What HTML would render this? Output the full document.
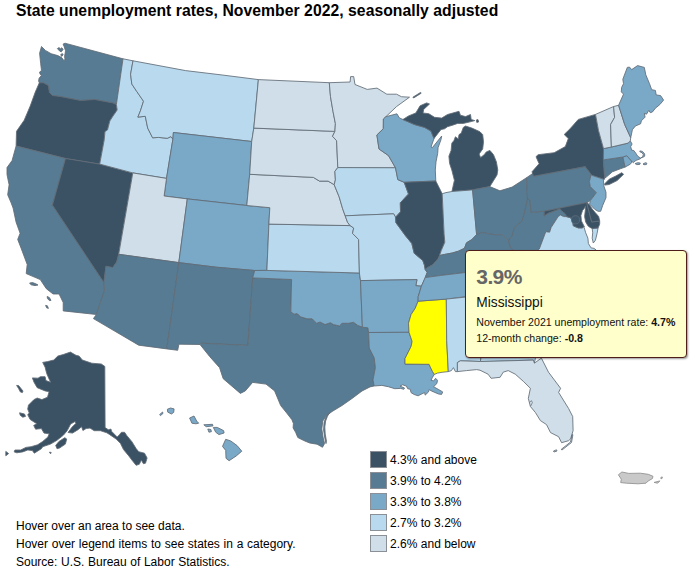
<!DOCTYPE html>
<html>
<head>
<meta charset="utf-8">
<title>State unemployment rates, November 2022, seasonally adjusted</title>
<style>
html,body{margin:0;padding:0;background:#fff;}
body{width:695px;height:573px;position:relative;overflow:hidden;font-family:"Liberation Sans",sans-serif;color:#000;}
#title{position:absolute;left:16px;top:2.6px;font-size:15.72px;font-weight:bold;line-height:1;white-space:nowrap;letter-spacing:0.045px;color:#000;}
#map{position:absolute;left:0;top:0;width:695px;height:573px;}
#map path{stroke:#616c76;stroke-width:0.85;stroke-linejoin:round;}
.leg{position:absolute;left:370px;width:200px;height:16px;font-size:12px;line-height:16px;white-space:nowrap;}
.leg i{position:absolute;left:0;top:-0.2px;width:14.7px;height:14.7px;border:1px solid #8a9096;display:block;}
.leg span{position:absolute;left:20.1px;top:1px;}
.foot{position:absolute;left:16px;font-size:12px;line-height:16px;white-space:nowrap;}
#tip{position:absolute;left:465px;top:250px;width:220px;height:105.5px;border:1px solid #4f1e1a;border-radius:4px;background:#ffffcc;box-shadow:1px 1px 2px rgba(0,0,0,0.4);}
#tip div{position:absolute;left:10.3px;white-space:nowrap;line-height:1;}
#t1{top:15.3px;font-size:21px;font-weight:bold;color:#666;letter-spacing:-0.6px;}
#t2{top:45.2px;font-size:13.75px;color:#111;}
#t3{top:65.7px;font-size:10.6px;color:#111;}
#t4{top:81.6px;font-size:10.6px;color:#111;}
</style>
</head>
<body>
<svg id="map" viewBox="0 0 695 573" width="695" height="573">
<path d="M39.3 82.8 L38.6 81.1 L39.1 78.2 L41.5 75.3 L40.1 74.3 L39.6 72.0 L41.5 70.5 L40.7 63.8 L39.6 53.2 L41.5 46.5 L45.4 50.4 L51.1 53.7 L57.8 55.6 L61.7 57.6 L64.1 60.8 L65.0 59.0 L64.5 56.6 L65.2 53.0 L65.5 50.8 L64.1 46.5 L63.1 44.1 L65.0 43.2 L123.0 58.8 L116.4 104.5 L112.8 102.9 L94.7 99.5 L80.6 100.5 L70.5 98.5 L60.4 96.5 L52.4 95.5 L49.4 92.5 L48.3 85.4 L43.3 82.8 L39.3 82.8ZM57.4 48.6 L59.0 47.6 L60.4 48.8 L61.8 47.8 L63.1 49.4 L61.4 51.8 L59.8 51.2ZM60.7 54.6 L62.4 53.6 L63.2 55.0 L61.6 56.4Z" fill="#567b92"/>
<path d="M16.1 146.0 L16.5 131.3 L24.2 120.2 L30.2 106.1 L35.3 92.0 L39.3 82.8 L43.3 82.8 L48.3 85.4 L49.4 92.5 L52.4 95.5 L60.4 96.5 L70.5 98.5 L80.6 100.5 L94.7 99.5 L112.8 102.9 L116.4 104.5 L117.2 110.0 L113.0 116.0 L109.8 121.0 L107.5 130.0 L105.0 131.5 L104.2 140.0 L99.7 164.1 L65.5 158.5Z" fill="#3b5265"/>
<path d="M16.1 146.0 L12.1 160.5 L7.0 167.6 L7.0 174.6 L9.1 184.7 L7.7 194.8 L11.1 202.8 L13.1 208.1 L16.1 222.2 L20.1 233.3 L17.7 239.4 L21.2 248.4 L27.2 264.5 L26.2 273.6 L40.3 279.6 L46.3 288.7 L53.1 294.0 L59.1 294.0 L63.2 302.5 L63.2 310.9 L96.4 314.5 L100.4 302.5 L104.5 290.4 L103.9 282.5 L52.4 205.1 L65.5 158.5ZM29.6 283.0 L32.6 282.6 L35.8 283.8 L38.0 285.0 L35.0 285.6 L31.0 284.8ZM47.2 296.4 L49.4 297.6 L51.0 300.4 L49.4 300.6 L47.4 298.4ZM45.6 305.4 L47.4 305.8 L48.4 308.4 L46.6 307.8Z" fill="#567b92"/>
<path d="M65.5 158.5 L99.7 164.1 L132.8 172.9 L118.7 254.3 L116.7 262.0 L112.8 267.6 L110.5 267.2 L106.0 266.3 L103.9 282.5 L52.4 205.1 L65.5 158.5Z" fill="#3b5265"/>
<path d="M123.0 58.8 L133.0 60.8 L130.6 74.2 L131.8 84.0 L136.7 91.4 L143.5 101.2 L140.4 110.9 L137.9 117.1 L145.3 116.3 L147.7 128.1 L152.6 137.8 L158.7 137.4 L167.3 138.3 L170.9 136.6 L172.9 139.1 L166.5 178.4 L132.8 172.9 L99.7 164.1 L104.2 140.0 L105.0 131.5 L107.5 130.0 L109.8 121.0 L113.0 116.0 L117.2 110.0 L116.4 104.5Z" fill="#b9daee"/>
<path d="M133.0 60.8 L185.6 70.6 L222.3 75.0 L258.4 79.6 L253.8 128.1 L251.7 141.5 L173.4 132.5 L172.9 139.1 L170.9 136.6 L167.3 138.3 L158.7 137.4 L152.6 137.8 L147.7 128.1 L145.3 116.3 L137.9 117.1 L140.4 110.9 L143.5 101.2 L136.7 91.4 L131.8 84.0 L130.6 74.2 L133.0 60.8Z" fill="#b9daee"/>
<path d="M173.4 132.5 L251.7 141.5 L249.7 174.3 L246.8 205.5 L187.3 198.9 L164.1 196.0 L166.5 178.4 L172.9 139.1Z" fill="#7aa8c7"/>
<path d="M132.8 172.9 L166.5 178.4 L164.1 196.0 L187.3 198.9 L178.8 262.6 L118.7 254.3Z" fill="#cfdee8"/>
<path d="M187.3 198.9 L246.8 205.5 L269.8 207.7 L268.9 224.1 L266.9 270.4 L254.7 270.5 L216.0 267.2 L178.8 262.6Z" fill="#7aa8c7"/>
<path d="M118.7 254.3 L178.8 262.6 L166.8 348.9 L138.7 345.2 L93.4 318.6 L96.4 314.5 L100.4 302.5 L104.5 290.4 L103.9 282.5 L106.0 266.3 L110.5 267.2 L112.8 267.6 L116.7 262.0 L118.7 254.3Z" fill="#567b92"/>
<path d="M178.8 262.6 L216.0 267.2 L254.7 270.5 L252.7 277.9 L247.9 345.4 L201.0 343.2 L200.0 344.5 L178.9 344.2 L177.7 350.3 L166.8 348.9Z" fill="#567b92"/>
<path d="M252.7 277.9 L291.6 279.5 L290.8 311.8 L294.1 314.2 L297.3 313.6 L300.5 316.8 L307.0 318.8 L312.2 318.8 L316.7 323.3 L320.0 322.0 L325.1 324.6 L330.3 322.7 L333.6 324.6 L339.4 325.9 L342.0 323.3 L348.5 323.3 L353.6 322.3 L357.5 325.3 L362.4 327.2 L367.9 327.8 L368.6 332.5 L369.3 348.1 L374.2 357.8 L375.4 367.6 L373.0 379.9 L374.2 386.0 L370.0 386.9 L362.0 391.0 L352.0 398.5 L342.0 405.5 L332.1 411.5 L326.0 416.0 L322.8 421.0 L321.8 429.0 L323.2 438.0 L324.6 443.5 L322.5 447.3 L317.1 444.2 L309.7 443.0 L303.7 440.5 L297.8 437.5 L295.6 432.3 L293.1 427.9 L293.4 423.4 L291.9 419.7 L286.7 413.0 L280.7 405.6 L274.6 390.9 L266.0 384.1 L252.6 382.4 L245.3 390.9 L240.4 393.4 L223.2 378.7 L219.6 367.7 L209.8 356.7 L200.0 344.5 L201.0 343.2 L247.9 345.4ZM329.5 412.6 L325.6 417.6 L324.0 423.0 L323.6 430.0 L324.8 438.0 L326.0 443.6 L326.4 441.0 L325.2 434.0 L324.8 427.0 L325.6 421.0 L327.4 416.4Z" fill="#567b92"/>
<path d="M254.7 270.5 L266.9 270.4 L359.4 273.0 L360.5 280.6 L362.4 327.2 L357.5 325.3 L353.6 322.3 L348.5 323.3 L342.0 323.3 L339.4 325.9 L333.6 324.6 L330.3 322.7 L325.1 324.6 L320.0 322.0 L316.7 323.3 L312.2 318.8 L307.0 318.8 L300.5 316.8 L297.3 313.6 L294.1 314.2 L290.8 311.8 L291.6 279.5 L252.7 277.9Z" fill="#7aa8c7"/>
<path d="M268.9 224.1 L350.1 225.6 L353.7 228.0 L352.5 233.4 L358.6 239.5 L359.4 273.0 L266.9 270.4Z" fill="#b9daee"/>
<path d="M249.7 174.3 L313.4 177.4 L319.5 181.1 L328.1 181.1 L334.2 184.7 L339.1 196.7 L342.7 208.9 L345.2 215.8 L347.6 222.4 L350.1 225.6 L268.9 224.1 L269.8 207.7 L246.8 205.5Z" fill="#cfdee8"/>
<path d="M253.8 128.1 L334.9 131.4 L332.5 136.3 L336.6 140.7 L337.8 167.6 L334.9 171.3 L335.4 179.9 L334.2 184.7 L328.1 181.1 L319.5 181.1 L313.4 177.4 L249.7 174.3 L251.7 141.5Z" fill="#cfdee8"/>
<path d="M258.4 79.6 L329.3 82.7 L330.5 96.7 L333.0 111.4 L335.4 123.6 L334.9 131.4 L253.8 128.1Z" fill="#cfdee8"/>
<path d="M329.3 82.7 L350.1 82.0 L350.6 76.6 L353.7 76.6 L355.0 84.5 L367.2 89.4 L377.0 88.1 L386.8 94.2 L396.6 94.2 L401.4 96.7 L409.5 97.2 L396.6 106.5 L385.9 116.7 L383.4 119.0 L383.3 128.7 L376.9 135.0 L379.0 149.0 L388.5 155.6 L395.5 167.8 L337.8 167.6 L336.6 140.7 L332.5 136.3 L334.9 131.4 L335.4 123.6 L333.0 111.4 L330.5 96.7 L329.3 82.7Z" fill="#cfdee8"/>
<path d="M337.8 167.6 L395.5 167.8 L397.8 179.6 L404.2 182.3 L408.5 194.0 L400.3 202.8 L400.5 211.8 L395.6 217.2 L393.6 213.8 L345.2 215.8 L342.7 208.9 L339.1 196.7 L334.2 184.7 L335.4 179.9 L334.9 171.3Z" fill="#b9daee"/>
<path d="M345.2 215.8 L393.6 213.8 L395.6 217.2 L395.9 222.6 L405.7 236.0 L411.8 243.4 L414.2 253.2 L422.8 260.5 L424.4 265.0 L425.2 269.5 L427.2 272.5 L425.2 277.6 L421.4 286.2 L415.8 285.7 L417.0 279.6 L360.5 280.6 L359.4 273.0 L358.6 239.5 L352.5 233.4 L353.7 228.0 L350.1 225.6 L347.6 222.4 L345.2 215.8Z" fill="#b9daee"/>
<path d="M360.5 280.6 L417.0 279.6 L415.8 285.7 L421.4 286.2 L418.2 296.7 L418.1 301.2 L415.1 308.5 L411.1 314.5 L408.5 323.2 L409.0 332.3 L368.6 332.5 L367.9 327.8 L362.4 327.2Z" fill="#7aa8c7"/>
<path d="M368.6 332.5 L409.0 332.3 L412.1 341.4 L411.1 346.4 L405.0 358.5 L405.0 364.1 L429.1 364.3 L429.8 366.0 L432.3 371.2 L434.3 374.4 L432.3 377.7 L431.0 380.3 L433.6 380.9 L435.6 378.3 L437.5 380.3 L436.9 383.5 L433.6 386.7 L438.2 389.3 L442.7 391.9 L441.6 394.4 L438.5 394.0 L432.0 391.2 L429.1 389.6 L428.5 391.9 L425.2 395.1 L424.6 392.6 L422.0 393.8 L418.1 395.8 L414.2 394.5 L411.0 392.6 L410.3 389.3 L407.7 388.7 L406.4 386.1 L402.6 384.8 L400.0 386.1 L404.5 388.0 L403.8 389.3 L400.6 388.4 L394.8 388.7 L388.3 386.7 L381.8 385.4 L374.2 386.0 L373.0 379.9 L375.4 367.6 L374.2 357.8 L369.3 348.1 L368.6 332.5Z" fill="#7aa8c7"/>
<path d="M418.1 301.2 L415.1 308.5 L411.1 314.5 L408.5 323.2 L409.0 332.3 L412.1 341.4 L411.1 346.4 L405.0 358.5 L405.0 364.1 L429.1 364.3 L429.8 366.0 L432.3 371.2 L434.3 374.4 L437.5 373.1 L442.0 372.3 L448.3 371.6 L446.7 340.4 L446.3 299.1Z" fill="#ffff00"/>
<path d="M385.9 116.7 L396.9 113.8 L399.4 117.9 L402.9 119.5 L414.4 124.5 L424.5 127.4 L430.9 131.0 L434.0 138.5 L431.0 147.0 L432.4 147.6 L441.7 136.0 L441.0 139.6 L438.1 147.6 L437.7 153.3 L436.0 161.9 L435.3 170.0 L435.8 181.0 L404.2 182.3 L397.8 179.6 L395.5 167.8 L388.5 155.6 L379.0 149.0 L376.9 135.0 L383.3 128.7 L383.4 119.0 L385.9 116.7Z" fill="#7aa8c7"/>
<path d="M402.9 119.5 L414.4 124.5 L424.5 127.4 L430.9 131.0 L434.0 138.5 L438.1 133.2 L441.0 129.6 L444.6 128.8 L447.5 126.7 L453.2 125.0 L457.6 123.4 L463.3 123.4 L471.2 121.6 L474.8 120.6 L471.2 119.5 L470.5 114.5 L465.5 116.6 L460.4 115.2 L459.0 111.3 L447.5 114.5 L441.7 118.1 L434.5 117.3 L428.8 113.7 L423.0 113.0 L423.7 109.4 L429.5 104.0 L426.6 102.9 L420.1 105.8 L415.8 113.0 L408.6 115.9ZM463.3 127.4 L465.5 126.0 L471.9 128.1 L479.9 131.7 L482.7 134.6 L483.5 141.8 L482.7 149.0 L479.1 154.0 L480.6 157.6 L484.2 154.7 L486.3 151.9 L489.9 150.4 L493.5 154.7 L496.4 161.9 L497.8 170.0 L497.0 175.0 L489.8 186.6 L472.6 189.9 L451.9 191.5 L454.4 180.3 L451.8 170.0 L449.6 163.4 L448.9 156.2 L451.1 150.4 L451.8 143.2 L454.0 140.4 L455.4 136.8 L458.3 138.9 L459.0 134.6 L461.2 133.2ZM412.9 97.2 L420.6 92.4 L421.2 93.2 L413.6 98.0ZM476.3 120.0 L478.0 119.6 L478.6 122.0 L476.8 122.4Z" fill="#3b5265"/>
<path d="M404.2 182.3 L435.8 181.0 L442.2 193.7 L444.1 233.6 L444.8 242.2 L441.2 250.7 L439.5 255.5 L438.3 258.4 L433.2 264.5 L427.2 267.8 L425.2 269.5 L424.4 265.0 L422.8 260.5 L414.2 253.2 L411.8 243.4 L405.7 236.0 L395.9 222.6 L395.6 217.2 L400.5 211.8 L400.3 202.8 L408.5 194.0 L404.2 182.3Z" fill="#3b5265"/>
<path d="M442.2 193.7 L446.0 192.6 L451.9 191.5 L472.6 189.9 L476.6 234.6 L471.7 239.7 L466.5 242.8 L464.5 248.3 L458.4 251.2 L452.3 253.0 L444.8 254.4 L439.5 255.5 L441.2 250.7 L444.8 242.2 L444.1 233.6 L442.2 193.7Z" fill="#b9daee"/>
<path d="M472.6 189.9 L489.8 186.6 L499.9 190.8 L512.1 187.1 L526.6 177.7 L527.5 199.0 L524.3 214.0 L521.9 221.4 L514.5 227.5 L512.1 236.0 L508.4 240.9 L502.3 234.8 L495.0 234.8 L487.6 233.6 L482.7 232.4 L476.6 234.6Z" fill="#567b92"/>
<path d="M439.5 255.5 L438.3 258.4 L433.2 264.5 L427.2 267.8 L425.2 269.5 L427.2 272.5 L425.2 277.6 L440.3 275.5 L465.5 272.5 L500.0 267.0 L512.0 258.0 L516.0 252.0 L510.9 248.3 L508.4 240.9 L502.3 234.8 L495.0 234.8 L487.6 233.6 L482.7 232.4 L476.6 234.6 L471.7 239.7 L466.5 242.8 L464.5 248.3 L458.4 251.2 L452.3 253.0 L444.8 254.4Z" fill="#567b92"/>
<path d="M425.2 277.6 L440.3 275.5 L465.5 272.5 L500.0 267.0 L530.0 262.0 L527.0 268.0 L510.0 278.0 L497.0 290.0 L497.0 294.0 L465.5 296.7 L446.3 299.1 L418.1 301.2 L418.2 296.7 L421.4 286.2Z" fill="#7aa8c7"/>
<path d="M446.3 299.1 L473.0 296.3 L479.5 337.0 L481.5 352.0 L480.5 361.5 L460.4 360.8 L457.4 362.5 L457.4 371.6 L455.4 371.6 L453.4 367.6 L451.4 370.6 L448.3 371.6 L446.7 340.4Z" fill="#b9daee"/>
<path d="M473.0 296.3 L497.0 294.0 L510.0 304.0 L525.0 322.0 L536.0 340.0 L537.0 350.0 L534.4 363.2 L533.4 360.1 L494.1 361.2 L480.5 361.5 L481.5 352.0 L479.5 337.0Z" fill="#b9daee"/>
<path d="M457.4 362.5 L460.4 360.8 L480.5 361.5 L494.1 361.2 L533.4 360.1 L534.4 363.2 L541.4 358.1 L548.5 372.2 L560.6 388.3 L558.6 392.4 L568.6 408.5 L572.7 416.5 L573.1 430.6 L570.7 438.7 L568.6 440.7 L561.6 442.7 L558.6 436.7 L550.5 432.6 L546.5 424.6 L540.4 420.6 L535.4 412.5 L530.4 406.5 L528.3 398.4 L530.4 388.3 L523.3 381.3 L515.3 374.2 L508.2 370.6 L503.2 372.2 L500.1 377.3 L491.1 378.3 L488.1 374.2 L480.0 370.2 L476.6 369.6 L466.5 370.6 L457.4 371.6ZM572.9 434.7 L571.5 442.5 L562.0 450.0 L561.2 449.4 L570.5 442.0 L572.0 434.7ZM553.5 451.0 L556.5 449.8 L557.0 451.0 L554.0 452.0Z" fill="#cfdee8"/>
<path d="M497.0 294.0 L510.0 290.0 L525.0 290.0 L545.0 302.0 L537.0 322.0 L525.0 322.0 L510.0 304.0Z" fill="#7aa8c7"/>
<path d="M530.0 262.0 L596.0 250.0 L598.0 262.0 L585.0 278.0 L560.0 296.0 L545.0 302.0 L525.0 290.0 L510.0 290.0 L497.0 294.0 L497.0 290.0 L510.0 278.0 L527.0 268.0Z" fill="#567b92"/>
<path d="M527.5 199.0 L524.3 214.0 L521.9 221.4 L514.5 227.5 L512.1 236.0 L508.4 240.9 L510.9 248.3 L516.0 252.0 L524.0 255.0 L533.0 254.0 L539.3 249.0 L545.8 231.7 L549.6 232.2 L551.2 227.4 L558.2 216.6 L560.4 215.0 L563.6 216.6 L566.3 216.6 L565.8 214.4 L560.9 210.1 L559.8 208.5 L556.6 210.1 L547.9 213.3 L544.2 216.0 L544.2 211.2 L531.0 212.4 L530.0 200.0Z" fill="#567b92"/>
<path d="M539.3 249.0 L545.8 231.7 L549.6 232.2 L551.2 227.4 L558.2 216.6 L560.4 215.0 L563.6 216.6 L566.3 216.6 L570.6 217.7 L572.8 222.0 L573.3 225.8 L578.2 227.9 L582.5 227.9 L584.1 226.3 L584.1 227.4 L585.7 232.8 L587.9 238.2 L588.4 243.6 L591.1 247.9 L594.3 248.4 L596.0 250.0 L530.0 262.0 L512.0 258.0 L516.0 252.0 L524.0 255.0 L533.0 254.0ZM592.2 228.5 L598.1 227.9 L597.0 233.8 L595.4 240.3 L593.3 243.0 L592.2 238.2 L592.7 232.8Z" fill="#b9daee"/>
<path d="M526.6 177.7 L532.7 173.5 L533.6 176.2 L585.1 166.6 L591.2 174.4 L589.4 181.4 L590.3 186.6 L596.4 192.7 L590.3 200.6 L587.7 202.3 L586.8 202.6 L559.8 208.1 L544.2 211.2 L531.0 212.4 L530.0 200.0 L527.5 199.0Z" fill="#567b92"/>
<path d="M533.6 176.2 L532.0 171.8 L539.1 163.7 L536.0 156.7 L538.1 154.7 L554.2 152.7 L565.3 146.6 L568.3 138.6 L564.2 134.5 L570.3 128.5 L578.3 119.4 L595.5 114.4 L598.5 130.5 L603.5 148.6 L603.4 159.9 L604.7 177.9 L604.7 179.2 L603.4 179.2 L591.6 175.3 L591.2 174.4 L585.1 166.6ZM604.7 183.8 L609.2 179.2 L615.8 176.0 L621.7 172.7 L623.6 174.3 L617.1 180.6 L609.2 184.5 L604.7 185.1Z" fill="#3b5265"/>
<path d="M591.6 175.3 L603.4 179.2 L603.8 185.8 L606.0 192.3 L606.0 197.6 L602.7 205.4 L600.7 211.3 L598.1 211.3 L594.7 209.3 L589.6 204.1 L590.3 200.6 L596.4 192.7 L590.3 186.6 L589.4 181.4 L591.2 174.4Z" fill="#7aa8c7"/>
<path d="M544.2 211.2 L559.8 208.1 L586.8 202.6 L586.8 203.1 L591.7 222.0 L599.7 220.9 L599.7 224.1 L598.1 227.9 L592.2 228.5 L590.0 227.4 L587.9 225.8 L585.7 222.0 L584.6 216.6 L585.2 211.2 L585.7 205.8 L584.6 207.9 L582.5 210.6 L580.9 215.5 L581.4 220.9 L584.1 226.3 L582.5 227.9 L578.2 227.9 L573.3 225.8 L572.8 222.0 L570.6 217.7 L566.3 216.6 L565.8 214.4 L560.9 210.1 L559.8 208.5 L556.6 210.1 L547.9 213.3 L544.2 216.0Z" fill="#3b5265"/>
<path d="M586.8 202.6 L589.5 204.7 L592.2 209.0 L595.4 212.8 L598.7 216.6 L599.7 220.9 L591.7 222.0 L586.8 203.1Z" fill="#3b5265"/>
<path d="M603.4 159.9 L622.9 157.0 L625.1 167.1 L620.3 168.8 L612.4 171.8 L606.3 177.1 L604.7 177.9Z" fill="#567b92"/>
<path d="M622.9 157.0 L626.8 155.7 L630.7 160.1 L632.0 162.3 L629.9 164.4 L625.1 167.1Z" fill="#7aa8c7"/>
<path d="M603.5 148.6 L611.4 147.0 L628.1 143.1 L630.3 140.9 L632.1 144.0 L630.7 146.6 L631.6 150.1 L633.8 150.5 L636.0 153.5 L637.7 156.2 L640.3 157.9 L642.5 157.5 L644.7 156.2 L644.7 154.0 L642.5 151.4 L639.9 150.9 L639.9 151.8 L642.1 152.7 L643.4 154.8 L642.5 156.6 L640.3 158.8 L636.8 160.1 L635.1 161.0 L633.4 162.7 L630.7 160.1 L626.8 155.7 L622.9 157.0 L603.4 159.9ZM635.1 163.6 L637.6 162.7 L640.3 163.0 L639.6 164.5 L636.6 164.6ZM643.0 164.0 L645.4 162.7 L646.9 163.2 L646.4 164.6 L644.0 164.7Z" fill="#7aa8c7"/>
<path d="M595.5 114.4 L613.6 106.5 L614.6 117.4 L610.6 124.5 L611.4 147.0 L603.5 148.6 L598.5 130.5Z" fill="#cfdee8"/>
<path d="M613.6 106.5 L618.6 105.3 L624.7 124.5 L630.7 137.6 L630.3 140.9 L628.1 143.1 L611.4 147.0 L610.6 124.5 L614.6 117.4Z" fill="#cfdee8"/>
<path d="M618.6 105.3 L623.5 94.1 L621.3 91.9 L621.6 87.4 L623.5 83.7 L622.8 79.3 L627.3 67.4 L629.5 67.1 L631.7 69.6 L637.6 65.6 L644.3 67.4 L645.8 74.8 L649.5 83.7 L651.7 89.7 L655.4 90.4 L656.2 94.9 L660.6 95.6 L663.6 100.1 L659.9 104.5 L655.4 108.2 L652.5 111.9 L650.3 112.7 L648.8 110.4 L646.5 114.2 L644.3 113.4 L645.1 117.1 L641.4 120.8 L640.6 123.8 L635.4 126.0 L632.4 129.7 L631.0 136.4 L630.7 137.6 L624.7 124.5Z" fill="#7aa8c7"/>
<path d="M42.7 362.4 L47.5 361.6 L53.8 360.0 L57.8 356.1 L63.3 354.5 L70.4 352.1 L76.0 355.3 L79.1 356.1 L82.3 360.0 L91.8 363.2 L101.3 364.0 L104.8 366.4 L105.1 427.6 L108.3 429.7 L111.0 429.1 L111.5 431.2 L117.2 437.0 L119.3 434.9 L121.4 432.3 L124.6 432.3 L126.7 435.4 L131.9 441.7 L136.1 448.5 L138.7 451.7 L144.5 453.2 L147.1 458.0 L145.5 463.2 L143.4 463.7 L141.3 460.1 L139.3 464.3 L136.1 465.3 L131.9 460.1 L128.8 455.9 L123.5 449.6 L120.4 443.3 L116.2 439.1 L109.4 434.4 L106.8 432.8 L100.5 430.7 L94.2 430.7 L90.0 428.1 L86.1 428.6 L82.9 430.5 L81.6 426.7 L77.7 429.9 L72.5 433.1 L68.0 432.5 L71.9 427.3 L75.8 423.4 L75.1 421.5 L70.6 424.1 L67.3 430.5 L63.5 435.1 L57.0 440.3 L50.5 444.1 L42.7 446.7 L41.4 448.7 L34.3 453.2 L32.4 450.6 L27.8 450.0 L22.7 451.9 L16.8 452.8 L14.2 451.9 L14.9 450.0 L20.7 450.0 L25.9 447.4 L31.1 446.7 L37.6 444.8 L42.7 441.5 L47.9 437.0 L49.2 433.8 L44.0 433.1 L41.4 428.6 L35.6 429.2 L33.7 425.4 L36.8 423.8 L30.1 419.4 L27.7 414.6 L29.3 413.1 L27.7 409.1 L28.5 405.1 L34.0 399.6 L37.2 398.0 L41.9 399.6 L47.5 397.2 L49.1 391.7 L45.1 390.9 L37.2 387.7 L34.0 382.2 L32.4 377.9 L38.0 378.2 L40.4 376.7 L45.1 376.7 L45.9 380.6 L50.6 382.2 L49.1 379.0 L46.7 373.5 L45.1 367.2ZM16.6 385.4 L18.6 385.6 L23.0 391.0 L22.4 392.6 L20.4 392.0 L18.6 388.6ZM19.6 412.8 L24.5 414.0 L25.5 416.4 L22.8 417.2 L20.2 415.2ZM55.7 445.4 L58.9 441.5 L64.8 437.7 L66.7 439.0 L65.4 444.1 L59.6 448.0 L57.0 448.7ZM5.8 451.4 L8.6 453.6 L5.8 455.8ZM49.4 452.2 L51.2 452.4 L50.6 453.8Z" fill="#3b5265"/>
<path d="M159.6 414.6 L162.6 412.0 L163.0 413.4 L160.5 415.6ZM167.4 409.2 L170.6 408.0 L174.1 408.9 L173.7 412.4 L171.4 414.0 L167.7 412.1ZM189.6 418.0 L194.0 416.0 L196.7 421.1 L198.7 423.2 L195.9 423.8 L191.9 423.2ZM203.8 424.8 L212.5 424.3 L213.0 425.9 L206.2 426.7ZM207.8 429.0 L210.9 429.5 L211.4 431.7 L208.9 432.2ZM213.3 427.4 L217.3 427.4 L223.6 430.6 L224.1 433.0 L218.9 434.6 L215.7 432.2ZM225.7 439.3 L230.7 440.9 L237.1 445.6 L241.8 451.2 L236.3 455.9 L229.1 460.7 L226.0 458.3 L225.7 450.4 L222.5 446.4Z" fill="#7aa8c7"/>
<path d="M618.4 474.8 L621.9 472.0 L628.8 473.4 L640.3 473.2 L648.3 474.3 L653.0 476.3 L652.4 478.6 L648.3 480.9 L646.0 483.2 L638.0 483.8 L626.5 483.2 L620.7 482.6 L621.3 479.2ZM654.1 482.4 L659.9 480.9 L657.6 483.2ZM661.0 477.2 L662.4 477.0 L662.0 478.6 L660.8 478.6Z" fill="#c9c9c9" style="stroke:#8f8f8f"/>
<circle cx="575.5" cy="219.8" r="4.1" fill="#3f586c" stroke="#5f6f7c" stroke-width="0.8"/>
<path d="M530.6 406.2 L532.4 402.6 L531.4 400.6 L529.8 402.4" fill="none" style="stroke-width:0.7"/>
</svg>
<div id="title">State unemployment rates, November 2022, seasonally adjusted</div>
<div class="leg" style="top:451.4px"><i style="background:#3b5265"></i><span>4.3% and above</span></div>
<div class="leg" style="top:472.3px"><i style="background:#567b92"></i><span>3.9% to 4.2%</span></div>
<div class="leg" style="top:493.2px"><i style="background:#7aa8c7"></i><span>3.3% to 3.8%</span></div>
<div class="leg" style="top:514.1px"><i style="background:#b9daee"></i><span>2.7% to 3.2%</span></div>
<div class="leg" style="top:535.1px"><i style="background:#cfdee8"></i><span>2.6% and below</span></div>
<div class="foot" style="top:517.5px">Hover over an area to see data.</div>
<div class="foot" style="top:535.8px;word-spacing:0.4px">Hover over legend items to see states in a category.</div>
<div class="foot" style="top:553.5px;word-spacing:0.3px">Source: U.S. Bureau of Labor Statistics.</div>
<div id="tip">
<div id="t1">3.9%</div>
<div id="t2">Mississippi</div>
<div id="t3">November 2021 unemployment rate: <b>4.7%</b></div>
<div id="t4">12-month change: <b>-0.8</b></div>
</div>
</body>
</html>
